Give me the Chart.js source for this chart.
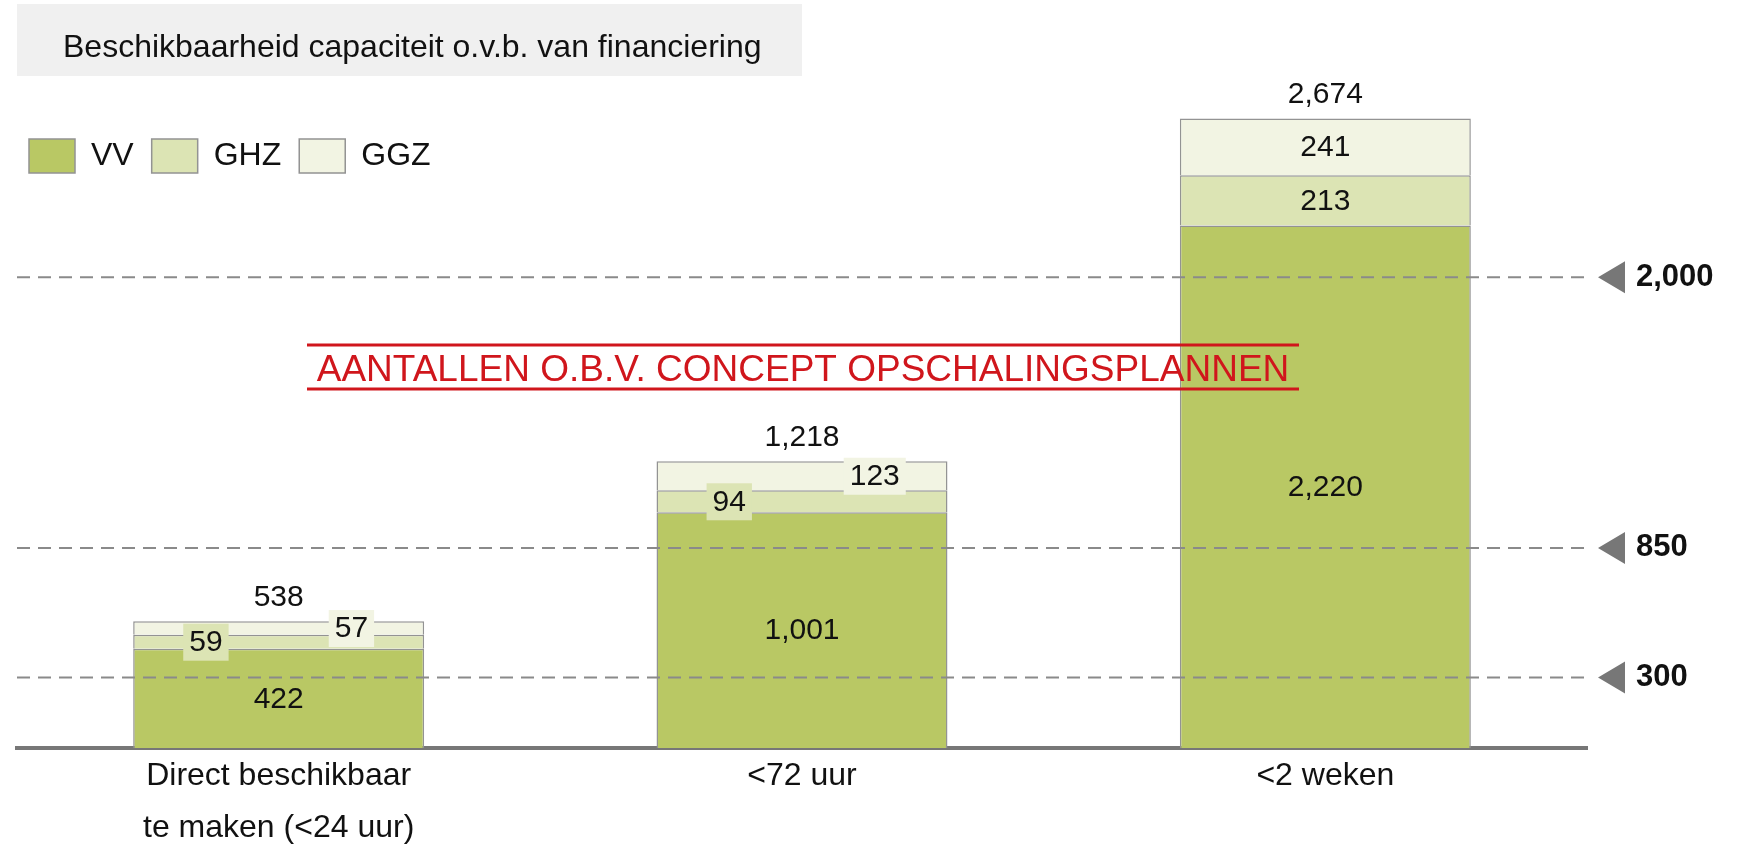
<!DOCTYPE html>
<html>
<head>
<meta charset="utf-8">
<script src="https://cdn.jsdelivr.net/npm/chart.js@4.4.0/dist/chart.umd.min.js"></script>
<style>
  html, body { margin: 0; padding: 0; background: #fff; }
</style>
</head>
<body>
<canvas id="chart" width="1738" height="844"></canvas>
<script>
// data
const categories = [['Direct beschikbaar', 'te maken (<24 uur)'], '<72 uur', '<2 weken'];
const vvValues = [422, 1001, 2220];
const ghzValues = [59, 94, 213];
const ggzValues = [57, 123, 241];
const totals = [538, 1218, 2674];
const refLines = [300, 850, 2000];
const refLabels = ['300', '850', '2,000'];
const chartTitle = 'Beschikbaarheid capaciteit o.v.b. van financiering';
const bannerText = 'AANTALLEN O.B.V. CONCEPT OPSCHALINGSPLANNEN';

const FONT = '"Liberation Sans", Arial, sans-serif';
const fmt = v => v.toLocaleString('en-US');

// title box, reference lines, value labels and the red banner
const decorations = {
  id: 'decorations',
  beforeDraw(chart) {
    const ctx = chart.ctx;
    ctx.save();
    ctx.fillStyle = '#f0f0f0';
    ctx.fillRect(17, 4, 785, 72);
    ctx.fillStyle = '#111';
    ctx.font = '32px ' + FONT;
    ctx.textAlign = 'left';
    ctx.textBaseline = 'alphabetic';
    ctx.fillText(chartTitle, 63, 57);
    ctx.restore();
  },
  afterDatasetsDraw(chart) {
    const ctx = chart.ctx;
    const area = chart.chartArea;
    const yScale = chart.scales.y;
    ctx.save();

    // dashed reference lines with markers
    refLines.forEach((v, i) => {
      const py = yScale.getPixelForValue(v);
      ctx.strokeStyle = '#8a8a8a';
      ctx.lineWidth = 2;
      ctx.setLineDash([13, 8]);
      ctx.beginPath();
      ctx.moveTo(area.left, py);
      ctx.lineTo(area.right, py);
      ctx.stroke();
      ctx.setLineDash([]);
      ctx.fillStyle = '#777';
      ctx.beginPath();
      ctx.moveTo(area.right + 11, py);
      ctx.lineTo(area.right + 38, py - 16);
      ctx.lineTo(area.right + 38, py + 16);
      ctx.closePath();
      ctx.fill();
      ctx.fillStyle = '#111';
      ctx.font = 'bold 31px ' + FONT;
      ctx.textAlign = 'left';
      ctx.textBaseline = 'middle';
      ctx.fillText(refLabels[i], area.right + 49, py);
    });

    // segment values
    ctx.textAlign = 'center';
    ctx.textBaseline = 'middle';
    ctx.font = '30px ' + FONT;
    chart.data.datasets.forEach((ds, di) => {
      const meta = chart.getDatasetMeta(di);
      meta.data.forEach((bar, i) => {
        const txt = fmt(ds.data[i]);
        const h = Math.abs(bar.base - bar.y);
        let x = bar.x;
        const y = (bar.y + bar.base) / 2;
        if (h < 40 && di > 0) {
          // thin segment: label moved sideways on a small patch
          x += (di === 1 ? -0.25 : 0.25) * bar.width;
          const w = ctx.measureText(txt).width + 12;
          ctx.fillStyle = ds.backgroundColor;
          ctx.fillRect(x - w / 2, y - 18, w, 37);
        }
        ctx.fillStyle = '#111';
        ctx.fillText(txt, x, y + 1);
      });
    });

    // totals above the stacks
    const top = chart.getDatasetMeta(chart.data.datasets.length - 1);
    top.data.forEach((bar, i) => {
      ctx.fillStyle = '#111';
      ctx.fillText(fmt(totals[i]), bar.x, bar.y - 24);
    });

    // red banner
    ctx.strokeStyle = '#d0161c';
    ctx.lineWidth = 3;
    ctx.beginPath();
    ctx.moveTo(307, 345); ctx.lineTo(1299, 345);
    ctx.moveTo(307, 389); ctx.lineTo(1299, 389);
    ctx.stroke();
    ctx.fillStyle = '#d0161c';
    ctx.font = '37px ' + FONT;
    ctx.textBaseline = 'alphabetic';
    ctx.fillText(bannerText, 803, 381);

    ctx.restore();
  }
};

const common = { borderColor: '#939393', borderWidth: 1.5, clip: false, barPercentage: 0.556, categoryPercentage: 1 };

new Chart(document.getElementById('chart'), {
  type: 'bar',
  data: {
    labels: categories,
    datasets: [
      Object.assign({ label: 'VV', data: vvValues, backgroundColor: '#b9c864' }, common),
      Object.assign({ label: 'GHZ', data: ghzValues, backgroundColor: '#dce4b4' }, common),
      Object.assign({ label: 'GGZ', data: ggzValues, backgroundColor: '#f2f4e3' }, common)
    ]
  },
  options: {
    responsive: false,
    animation: false,
    layout: { padding: { top: 121, left: 11, right: 151, bottom: 0 } },
    plugins: {
      legend: {
        position: 'top',
        align: 'start',
        labels: {
          boxWidth: 46,
          boxHeight: 34,
          padding: 18,
          color: '#111',
          font: { size: 32, family: FONT }
        }
      },
      tooltip: { enabled: false }
    },
    scales: {
      x: {
        stacked: true,
        grid: { display: false, drawTicks: false },
        border: { display: true, color: '#777', width: 4 },
        ticks: { color: '#111', font: { size: 32, family: FONT, lineHeight: 1.6 }, padding: 3, maxRotation: 0 },
        afterFit: s => { s.height = 96; }
      },
      y: {
        stacked: true,
        min: 0,
        max: 2400,
        grid: { display: false },
        border: { display: false },
        ticks: { display: false },
        afterFit: s => { s.width = 6; }
      }
    }
  },
  plugins: [decorations]
});
</script>
</body>
</html>
